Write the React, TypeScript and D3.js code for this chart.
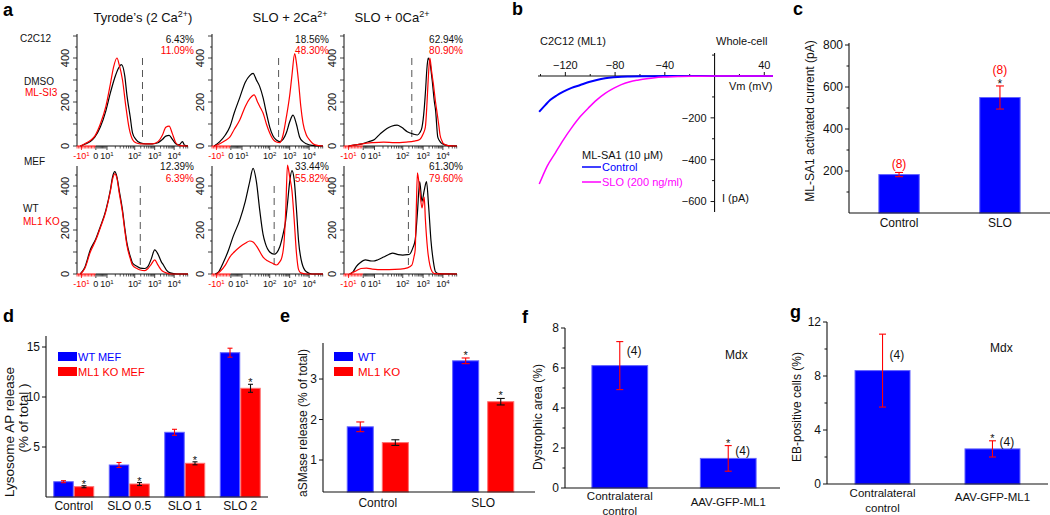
import React, { useEffect } from 'react';
import * as d3 from 'd3';

const FONT = "'Liberation Sans', Arial, Helvetica, sans-serif";
const BLUE = '#0000ff';
const BLUE_EDGE = '#6464ff';
const RED = '#ff0000';
const RED_EDGE = '#ff7070';
const MAGENTA = '#ff00ff';
const INK = '#111';

// ---------------- Panel a : flow cytometry histograms ----------------
const aTitles = ['Tyrode’s (2 Ca', 'SLO + 2Ca', 'SLO + 0Ca'];
const aTitleSups = ['2+', '2+', '2+'];
const aTitleTails = [')', '', ''];
const aPctBlack = ['6.43%', '18.56%', '62.94%', '12.39%', '33.44%', '61.30%'];
const aPctRed = ['11.09%', '48.30%', '80.90%', '6.39%', '55.82%', '79.60%'];
const aGates = [0.59, 0.6, 0.6, 0.57, 0.56, 0.57];
const aTickPos = [0.04, 0.17, 0.27, 0.52, 0.7, 0.875];
const aTickBase = ['-10', '0', '10', '10', '10', '10'];
const aTickSup = ['1', '', '1', '2', '3', '4'];
const aYTicks = [0, 200, 400];

const a1Black = [[0.03,0],[0.07,8],[0.12,20],[0.16,40],[0.21,86],[0.26,160],[0.30,240],[0.34,310],[0.37,350],[0.40,370],[0.43,320],[0.45,230],[0.48,130],[0.50,60],[0.53,30],[0.57,14],[0.62,10],[0.68,10],[0.73,15],[0.77,30],[0.80,45],[0.83,48],[0.86,30],[0.89,10],[0.92,5],[0.95,20],[0.97,3],[1.0,0]];
const a1Red = [[0.03,0],[0.07,10],[0.12,25],[0.16,45],[0.21,100],[0.26,180],[0.30,280],[0.33,360],[0.36,400],[0.38,370],[0.41,300],[0.44,180],[0.47,80],[0.50,30],[0.53,15],[0.57,10],[0.62,10],[0.68,10],[0.73,20],[0.77,50],[0.80,85],[0.83,90],[0.86,55],[0.89,15],[0.92,3],[1.0,0]];
const a2Black = [[0.02,0],[0.07,20],[0.12,50],[0.16,86],[0.20,150],[0.25,220],[0.30,290],[0.34,320],[0.37,330],[0.40,300],[0.43,270],[0.46,220],[0.49,150],[0.52,86],[0.55,45],[0.58,27],[0.61,20],[0.64,30],[0.67,60],[0.70,110],[0.73,140],[0.76,100],[0.79,40],[0.82,20],[0.85,10],[0.90,3],[1.0,0]];
const a2Red = [[0.02,0],[0.07,10],[0.12,25],[0.16,40],[0.20,75],[0.25,118],[0.30,180],[0.34,215],[0.38,232],[0.41,200],[0.44,170],[0.46,150],[0.49,100],[0.52,59],[0.55,30],[0.58,18],[0.61,15],[0.64,50],[0.67,132],[0.70,230],[0.72,320],[0.745,420],[0.76,380],[0.78,290],[0.80,180],[0.82,104],[0.85,50],[0.88,27],[0.93,5],[1.0,0]];
const a3Black = [[0.04,0],[0.10,5],[0.16,10],[0.22,20],[0.27,30],[0.32,55],[0.38,80],[0.42,90],[0.47,95],[0.51,85],[0.56,65],[0.61,55],[0.65,50],[0.67,60],[0.69,85],[0.71,170],[0.72,240],[0.735,360],[0.745,400],[0.76,380],[0.78,300],[0.80,200],[0.81,164],[0.83,40],[0.85,20],[0.87,10],[0.92,2],[1.0,0]];
const a3Red = [[0.04,0],[0.10,5],[0.16,10],[0.25,15],[0.35,18],[0.45,15],[0.55,18],[0.62,22],[0.67,30],[0.70,55],[0.72,86],[0.735,200],[0.745,300],[0.76,400],[0.775,340],[0.79,286],[0.81,200],[0.82,164],[0.84,90],[0.85,50],[0.87,20],[0.88,10],[0.92,2],[1.0,0]];
const a4Black = [[0.03,0],[0.07,30],[0.12,110],[0.17,160],[0.21,215],[0.26,290],[0.30,380],[0.32,440],[0.34,465],[0.36,440],[0.38,380],[0.41,290],[0.43,210],[0.45,140],[0.48,80],[0.50,50],[0.54,35],[0.57,27],[0.61,25],[0.64,35],[0.67,70],[0.70,110],[0.73,90],[0.76,55],[0.78,40],[0.81,15],[0.84,5],[0.90,0],[1.0,0]];
const a4Red = [[0.03,0],[0.07,25],[0.12,100],[0.17,155],[0.21,210],[0.26,285],[0.30,375],[0.32,430],[0.34,455],[0.36,435],[0.38,370],[0.41,280],[0.43,200],[0.45,130],[0.48,70],[0.50,40],[0.54,25],[0.57,18],[0.61,15],[0.64,25],[0.67,45],[0.70,64],[0.73,40],[0.76,18],[0.78,10],[0.81,4],[0.84,0],[1.0,0]];
const a5Black = [[0.03,0],[0.06,10],[0.10,50],[0.15,110],[0.19,170],[0.25,245],[0.30,330],[0.34,420],[0.37,480],[0.40,420],[0.43,290],[0.46,180],[0.48,140],[0.52,100],[0.56,90],[0.61,123],[0.64,180],[0.66,230],[0.68,320],[0.70,420],[0.72,470],[0.74,430],[0.76,300],[0.78,150],[0.81,50],[0.85,10],[0.90,0],[1.0,0]];
const a5Red = [[0.04,0],[0.07,10],[0.12,40],[0.16,77],[0.20,100],[0.25,123],[0.30,140],[0.34,150],[0.37,145],[0.41,120],[0.46,77],[0.50,60],[0.54,50],[0.58,41],[0.61,55],[0.63,77],[0.65,150],[0.665,300],[0.68,495],[0.70,440],[0.72,380],[0.74,250],[0.76,100],[0.78,20],[0.80,5],[0.85,0],[1.0,0]];
const a6Black = [[0.05,0],[0.08,10],[0.11,35],[0.14,50],[0.19,64],[0.23,60],[0.26,59],[0.30,65],[0.35,77],[0.40,90],[0.43,95],[0.48,88],[0.52,86],[0.56,88],[0.58,90],[0.61,120],[0.63,155],[0.65,280],[0.67,420],[0.69,330],[0.71,380],[0.73,420],[0.75,300],[0.77,150],[0.79,60],[0.81,10],[0.84,2],[1.0,0]];
const a6Red = [[0.05,0],[0.08,8],[0.11,15],[0.15,25],[0.20,27],[0.25,22],[0.30,20],[0.40,20],[0.50,22],[0.56,28],[0.60,40],[0.62,80],[0.63,110],[0.64,300],[0.65,460],[0.67,380],[0.69,300],[0.71,350],[0.72,250],[0.74,110],[0.76,40],[0.78,10],[0.80,2],[1.0,0]];
const aBlackSeries = [a1Black, a2Black, a3Black, a4Black, a5Black, a6Black];
const aRedSeries = [a1Red, a2Red, a3Red, a4Red, a5Red, a6Red];

// ---------------- Panel b : I-V curves ----------------
const bXTicks = [-120, -80, -40, 40];
const bXMinor = [-140, -100, -60, -20, 20];
const bYTicks = [-200, -400, -600];
const bYMinor = [100, -100, -300, -500];
const bControl = [[-141,-171],[-136,-138],[-132,-114],[-127,-93],[-121.6,-75],[-115,-57],[-108,-43],[-101,-29],[-94.7,-19],[-88,-11],[-81.3,-6],[-75,-3],[-68,-2],[-55,-1],[-40,0],[-20,0],[0,0],[20,0],[47,0]];
const bSLO = [[-141,-516],[-138,-475],[-134.7,-432],[-128,-367],[-121.6,-305],[-115,-248],[-108,-194],[-101,-150],[-94.7,-114],[-88,-83],[-81.3,-59],[-75,-41],[-68,-27],[-61,-19],[-54.7,-13],[-48,-8],[-41.3,-5],[-34,-3],[-28,-2],[-15,-1],[0,0],[20,0],[47,0]];

// ---------------- Panel c ----------------
const cCats = ['Control', 'SLO'];
const cVals = [183, 550];
const cErr = [10, 55];
const cN = ['(8)', '(8)'];
const cSig = [false, true];
const cYTicks = [200, 400, 600, 800];
const cYMinor = [100, 300, 500, 700];

// ---------------- Panel d ----------------
const dCats = ['Control', 'SLO 0.5', 'SLO 1', 'SLO 2'];
const dWT = [1.53, 3.2, 6.47, 14.43];
const dWTErr = [0.1, 0.25, 0.3, 0.45];
const dKO = [1.03, 1.3, 3.37, 10.87];
const dKOErr = [0.1, 0.15, 0.15, 0.4];
const dYTicks = [5, 10, 15];
const dLegend = ['WT MEF', 'ML1 KO MEF'];

// ---------------- Panel e ----------------
const eCats = ['Control', 'SLO'];
const eWT = [1.82, 3.45];
const eWTErr = [0.12, 0.07];
const eKO = [1.43, 2.44];
const eKOErr = [0.07, 0.08];
const eSig = [false, true];
const eYTicks = [1, 2, 3];
const eLegend = ['WT', 'ML1 KO'];

// ---------------- Panel f ----------------
const fCats = ['Contralateral|control', 'AAV-GFP-ML1'];
const fVals = [6.12, 1.48];
const fErr = [1.2, 0.64];
const fN = ['(4)', '(4)'];
const fNLabelY = [6.85, 1.85];
const fSig = [false, true];
const fYTicks = [0, 2, 4, 6, 8];
const fYMinor = [1, 3, 5, 7];

// ---------------- Panel g ----------------
const gCats = ['Contralateral|control', 'AAV-GFP-ML1'];
const gVals = [8.4, 2.6];
const gErr = [2.7, 0.6];
const gN = ['(4)', '(4)'];
const gNLabelY = [9.6, 3.1];
const gSig = [false, true];
const gYTicks = [0, 4, 8, 12];
const gYMinor = [2, 6, 10];

// ---------------- helpers ----------------
function ErrBar({ x, y0, y1, color, cap }: { x: number; y0: number; y1: number; color: string; cap: number }) {
  return (
    <g stroke={color} strokeWidth={1.1}>
      <line x1={x} x2={x} y1={y0} y2={y1} />
      <line x1={x - cap} x2={x + cap} y1={y0} y2={y0} />
      <line x1={x - cap} x2={x + cap} y1={y1} y2={y1} />
    </g>
  );
}

function YAxis({ scale, x, ticks, minor = [], fontSize = 12, top }: any) {
  const y0 = scale.range()[0];
  return (
    <g>
      <line x1={x} x2={x} y1={y0} y2={top} stroke={INK} strokeWidth={1.1} />
      {ticks.map((t: number) => (
        <g key={'t' + t}>
          <line x1={x - 4} x2={x} y1={scale(t)} y2={scale(t)} stroke={INK} />
          <text x={x - 6} y={scale(t)} dy="0.35em" textAnchor="end" fontSize={fontSize} fill={INK}>{t}</text>
        </g>
      ))}
      {minor.map((t: number) => (
        <line key={'m' + t} x1={x - 2.5} x2={x} y1={scale(t)} y2={scale(t)} stroke={INK} />
      ))}
    </g>
  );
}

function Histogram({ idx, left, right, base, top, pctY }: any) {
  const x = d3.scaleLinear().domain([0, 1]).range([left, right]);
  const y = d3.scaleLinear().domain([0, 400]).range([base, base - 88]);
  const line = d3.line<number[]>().x((d) => x(d[0])).y((d) => y(d[1])).curve(d3.curveMonotoneX);
  const maxCount = y.invert(top);
  const majorY = d3.range(0, maxCount, 100);
  const minorY = d3.range(50, maxCount, 100);
  const decs = aTickPos.slice(2);
  const minorX: number[] = [];
  decs.forEach((p, i) => {
    const w = i < decs.length - 1 ? decs[i + 1] - p : 0.175;
    for (let k = 2; k <= 9; k++) {
      const q = p + w * Math.log10(k);
      if (q < 1) minorX.push(q);
    }
  });
  const linMinor = d3.range(1, 10).map((j) => aTickPos[1] + ((aTickPos[2] - aTickPos[1]) * j) / 10);
  const negMinor = d3.range(0, 13).map((j) => (aTickPos[1] * j) / 13);
  return (
    <g>
      <line x1={left} x2={left} y1={base} y2={top} stroke={INK} strokeWidth={1} />
      <line x1={left} x2={x(aTickPos[1])} y1={base} y2={base} stroke={RED} strokeWidth={1} />
      <line x1={x(aTickPos[1])} x2={right} y1={base} y2={base} stroke={INK} strokeWidth={1} />
      {majorY.map((t) => (
        <line key={'my' + t} x1={left - 4} x2={left} y1={y(t)} y2={y(t)} stroke={INK} strokeWidth={0.8} />
      ))}
      {minorY.map((t) => (
        <line key={'ny' + t} x1={left - 2} x2={left} y1={y(t)} y2={y(t)} stroke={INK} strokeWidth={0.8} />
      ))}
      {aYTicks.map((t) => (
        <text key={'ly' + t} transform={`translate(${left - 8},${y(t)}) rotate(-90)`} textAnchor="middle" fontSize={11} fill={INK}>{t}</text>
      ))}
      {negMinor.map((p, i) => (
        <line key={'neg' + i} x1={x(p)} x2={x(p)} y1={base} y2={base + 2.5} stroke={RED} strokeWidth={0.7} />
      ))}
      {linMinor.map((p, i) => (
        <line key={'lin' + i} x1={x(p)} x2={x(p)} y1={base} y2={base + 2.5} stroke={INK} strokeWidth={0.7} />
      ))}
      {minorX.map((p, i) => (
        <line key={'mx' + i} x1={x(p)} x2={x(p)} y1={base} y2={base + 2.5} stroke={INK} strokeWidth={0.7} />
      ))}
      {aTickPos.map((p, i) => (
        <g key={'tx' + i}>
          <line x1={x(p)} x2={x(p)} y1={base} y2={base + 4} stroke={i === 0 ? RED : INK} strokeWidth={0.8} />
          <text x={x(p)} y={base + 13} textAnchor="middle" fontSize={9} fill={i === 0 ? RED : INK}>
            {aTickBase[i]}
            {aTickSup[i] && <tspan dy={-3.5} fontSize={6}>{aTickSup[i]}</tspan>}
          </text>
        </g>
      ))}
      <line x1={x(aGates[idx])} x2={x(aGates[idx])} y1={y(400)} y2={y(25)} stroke="#555" strokeWidth={1} strokeDasharray="7,5" />
      <path d={line(aBlackSeries[idx] as any) || ''} fill="none" stroke="#000" strokeWidth={1.2} />
      <path d={line(aRedSeries[idx] as any) || ''} fill="none" stroke={RED} strokeWidth={1.2} />
      <text x={right + 6} y={pctY[0]} dy="0.35em" textAnchor="end" fontSize={10} fill={INK}>{aPctBlack[idx]}</text>
      <text x={right + 6} y={pctY[1]} dy="0.35em" textAnchor="end" fontSize={10} fill={RED}>{aPctRed[idx]}</text>
    </g>
  );
}

function PanelA() {
  const cols = [
    { left: 77, right: 188, tx: 143 },
    { left: 212, right: 323, tx: 290 },
    { left: 344, right: 457, tx: 392 },
  ];
  const rows = [
    { top: 34, base: 146, pctY: [39, 50] },
    { top: 166, base: 274, pctY: [166, 178] },
  ];
  return (
    <g>
      {cols.map((c, i) => (
        <text key={'title' + i} x={c.tx} y={22} textAnchor="middle" fontSize={13} fill={INK}>
          {aTitles[i]}
          <tspan dy={-5} fontSize={9}>{aTitleSups[i]}</tspan>
          {aTitleTails[i] && <tspan dy={5}>{aTitleTails[i]}</tspan>}
        </text>
      ))}
      {rows.map((r, ri) =>
        cols.map((c, ci) => (
          <Histogram key={ri * 3 + ci} idx={ri * 3 + ci} left={c.left} right={c.right} top={r.top} base={r.base} pctY={r.pctY} />
        ))
      )}
      <text x={20} y={42} fontSize={10} fill={INK}>C2C12</text>
      <text x={24} y={85} fontSize={10} fill={INK}>DMSO</text>
      <text x={25} y={96} fontSize={10} fill={RED}>ML-SI3</text>
      <text x={24} y={165} fontSize={10} fill={INK}>MEF</text>
      <text x={23} y={212} fontSize={10} fill={INK}>WT</text>
      <text x={23} y={225} fontSize={10} fill={RED}>ML1 KO</text>
    </g>
  );
}

function PanelB() {
  const x = d3.scaleLinear().domain([-142, 47]).range([538, 773]);
  const y = d3.scaleLinear().domain([-650, 110]).range([212, 53]);
  const line = d3.line<number[]>().x((d) => x(d[0])).y((d) => y(d[1])).curve(d3.curveMonotoneX);
  const y0 = y(0);
  const x0 = x(0);
  return (
    <g fontSize={11} fill={INK}>
      <line x1={x(-142)} x2={x(47)} y1={y0} y2={y0} stroke={INK} strokeWidth={1.1} />
      <line x1={x0} x2={x0} y1={y(110)} y2={y(-650)} stroke={INK} strokeWidth={1.1} />
      {bXTicks.map((t) => (
        <g key={'bx' + t}>
          <line x1={x(t)} x2={x(t)} y1={y0} y2={y0 - 4} stroke={INK} />
          <text x={x(t)} y={y0 - 7} textAnchor="middle">{t < 0 ? '−' + Math.abs(t) : t}</text>
        </g>
      ))}
      {bXMinor.map((t) => (
        <line key={'bxm' + t} x1={x(t)} x2={x(t)} y1={y0} y2={y0 - 2} stroke={INK} />
      ))}
      {bYTicks.map((t) => (
        <g key={'by' + t}>
          <line x1={x0 - 4} x2={x0} y1={y(t)} y2={y(t)} stroke={INK} />
          <text x={x0 - 8} y={y(t)} dy="0.35em" textAnchor="end">{'−' + Math.abs(t)}</text>
        </g>
      ))}
      {bYMinor.map((t) => (
        <line key={'bym' + t} x1={x0 - 2.5} x2={x0} y1={y(t)} y2={y(t)} stroke={INK} />
      ))}
      <path d={line(bControl as any) || ''} fill="none" stroke={BLUE} strokeWidth={2} />
      <path d={line(bSLO as any) || ''} fill="none" stroke={MAGENTA} strokeWidth={1.5} />
      <text x={540} y={45}>C2C12 (ML1)</text>
      <text x={716} y={45}>Whole-cell</text>
      <text x={729} y={90}>Vm (mV)</text>
      <text x={722} y={202}>I (pA)</text>
      <text x={582} y={159}>ML-SA1 (10 μM)</text>
      <line x1={582} x2={601} y1={167} y2={167} stroke={BLUE} strokeWidth={1.5} />
      <text x={602} y={171} fill={BLUE}>Control</text>
      <line x1={582} x2={601} y1={182} y2={182} stroke={MAGENTA} strokeWidth={1.5} />
      <text x={602} y={186} fill={MAGENTA}>SLO (200 ng/ml)</text>
    </g>
  );
}

function PanelC() {
  const x = d3.scaleBand().domain(cCats).range([849, 1050]).paddingInner(0.6).paddingOuter(0.296);
  const y = d3.scaleLinear().domain([0, 800]).range([213, 45]);
  return (
    <g fill={INK}>
      {cCats.map((c, i) => {
        const cx = (x(c) as number) + x.bandwidth() / 2;
        const et = y(cVals[i] + cErr[i]);
        return (
          <g key={c}>
            <rect x={x(c)} y={y(cVals[i])} width={x.bandwidth()} height={y(0) - y(cVals[i])} fill={BLUE} stroke={BLUE_EDGE} strokeWidth={1} />
            <ErrBar x={cx} y0={et} y1={y(cVals[i] - cErr[i])} color={RED} cap={4} />
            {cSig[i] && <text x={cx} y={et + 2} textAnchor="middle" fontSize={12}>*</text>}
            <text x={cx} y={cSig[i] ? et - 12 : et - 4.5} textAnchor="middle" fontSize={12} fill={RED}>{cN[i]}</text>
            <text x={cx} y={227} textAnchor="middle" fontSize={12}>{c}</text>
          </g>
        );
      })}
      <line x1={849} x2={1050} y1={y(0)} y2={y(0)} stroke={INK} strokeWidth={1.1} />
      <YAxis scale={y} x={849} ticks={cYTicks} minor={cYMinor} top={43} />
      <text transform="translate(810,121) rotate(-90)" textAnchor="middle" dy="0.35em" fontSize={12}>ML-SA1 activated current (pA)</text>
    </g>
  );
}

function PanelD() {
  const x0 = d3.scaleBand().domain(dCats).range([46, 268]).paddingInner(0.28).paddingOuter(0.14);
  const x1 = d3.scaleBand().domain(['WT', 'KO']).range([0, x0.bandwidth()]).paddingInner(0.05);
  const y = d3.scaleLinear().domain([0, 16.1]).range([497, 336]);
  return (
    <g fill={INK}>
      {dCats.map((c, i) => {
        const gx = x0(c) as number;
        const bw = x1.bandwidth();
        const wx = gx + (x1('WT') as number);
        const kx = gx + (x1('KO') as number);
        const ket = y(dKO[i] + dKOErr[i]);
        return (
          <g key={c}>
            <rect x={wx} y={y(dWT[i])} width={bw} height={y(0) - y(dWT[i])} fill={BLUE} stroke={BLUE_EDGE} />
            <rect x={kx} y={y(dKO[i])} width={bw} height={y(0) - y(dKO[i])} fill={RED} stroke={RED_EDGE} />
            <ErrBar x={wx + bw / 2} y0={y(dWT[i] + dWTErr[i])} y1={y(dWT[i] - dWTErr[i])} color={RED} cap={2.5} />
            <ErrBar x={kx + bw / 2} y0={ket} y1={y(dKO[i] - dKOErr[i])} color={INK} cap={2.5} />
            <text x={kx + bw / 2} y={ket + 2} textAnchor="middle" fontSize={11}>*</text>
            <text x={gx + x0.bandwidth() / 2} y={510} textAnchor="middle" fontSize={12}>{c}</text>
          </g>
        );
      })}
      <line x1={46} x2={268} y1={y(0)} y2={y(0)} stroke={INK} strokeWidth={1.1} />
      <YAxis scale={y} x={46} ticks={dYTicks} top={336} />
      <text transform="translate(9,432) rotate(-90)" textAnchor="middle" dy="0.35em" fontSize={13.5}>Lysosome AP release</text>
      <text transform="translate(23,418) rotate(-90)" textAnchor="middle" dy="0.35em" fontSize={13.5}>(% of total )</text>
      <rect x={58} y={352} width={19} height={9} fill={BLUE} />
      <text x={78} y={361} fontSize={11} fill={BLUE}>{dLegend[0]}</text>
      <rect x={58} y={367} width={19} height={9} fill={RED} />
      <text x={78} y={376} fontSize={11} fill={RED}>{dLegend[1]}</text>
    </g>
  );
}

function PanelE() {
  const x0 = d3.scaleBand().domain(eCats).range([323, 538]).paddingInner(0.42).paddingOuter(0.23);
  const x1 = d3.scaleBand().domain(['WT', 'KO']).range([0, x0.bandwidth()]).paddingInner(0.257);
  const y = d3.scaleLinear().domain([0.21, 3.89]).range([492, 343]);
  const base = y(0.21);
  return (
    <g fill={INK}>
      {eCats.map((c, i) => {
        const gx = x0(c) as number;
        const bw = x1.bandwidth();
        const wx = gx + (x1('WT') as number);
        const kx = gx + (x1('KO') as number);
        const wet = y(eWT[i] + eWTErr[i]);
        const ket = y(eKO[i] + eKOErr[i]);
        return (
          <g key={c}>
            <rect x={wx} y={y(eWT[i])} width={bw} height={base - y(eWT[i])} fill={BLUE} stroke={BLUE_EDGE} />
            <rect x={kx} y={y(eKO[i])} width={bw} height={base - y(eKO[i])} fill={RED} stroke={RED_EDGE} />
            <ErrBar x={wx + bw / 2} y0={wet} y1={y(eWT[i] - eWTErr[i])} color={RED} cap={4} />
            <ErrBar x={kx + bw / 2} y0={ket} y1={y(eKO[i] - eKOErr[i])} color={INK} cap={4} />
            {eSig[i] && <text x={wx + bw / 2} y={wet + 1} textAnchor="middle" fontSize={11}>*</text>}
            {eSig[i] && <text x={kx + bw / 2} y={ket + 1} textAnchor="middle" fontSize={11}>*</text>}
            <text x={gx + x0.bandwidth() / 2} y={507} textAnchor="middle" fontSize={12}>{c}</text>
          </g>
        );
      })}
      <line x1={323} x2={535} y1={base} y2={base} stroke={INK} strokeWidth={1.1} />
      <YAxis scale={y} x={323} ticks={eYTicks} top={343} />
      <text transform="translate(303,423) rotate(-90)" textAnchor="middle" dy="0.35em" fontSize={12}>aSMase release (% of total)</text>
      <rect x={334} y={352} width={19} height={9} fill={BLUE} />
      <text x={358} y={361} fontSize={11.5} fill={BLUE}>{eLegend[0]}</text>
      <rect x={334} y={367} width={19} height={9} fill={RED} />
      <text x={358} y={376} fontSize={11.5} fill={RED}>{eLegend[1]}</text>
    </g>
  );
}

function SingleBars({ cats, vals, errs, ns, nY, sig, yTicks, yMinor, domainMax, range, yRange, axisEnd, title, titleX, titleY, mdx, catY, pin, pout }: any) {
  const x = d3.scaleBand().domain(cats).range(range).paddingInner(pin).paddingOuter(pout);
  const y = d3.scaleLinear().domain([0, domainMax]).range(yRange);
  const left = range[0];
  return (
    <g fill={INK}>
      {cats.map((c: string, i: number) => {
        const bx = x(c) as number;
        const cx = bx + x.bandwidth() / 2;
        const et = y(vals[i] + errs[i]);
        const lines = c.split('|');
        return (
          <g key={c}>
            <rect x={bx} y={y(vals[i])} width={x.bandwidth()} height={y(0) - y(vals[i])} fill={BLUE} stroke={BLUE_EDGE} />
            <ErrBar x={cx} y0={et} y1={y(vals[i] - errs[i])} color={RED} cap={3.5} />
            {sig[i] && <text x={cx} y={et + 1.5} textAnchor="middle" fontSize={11}>*</text>}
            <text x={cx + 7} y={y(nY[i])} dy="0.35em" fontSize={12}>{ns[i]}</text>
            {lines.map((l, li) => (
              <text key={li} x={cx} y={(lines.length > 1 ? catY[0] : catY[1]) + li * 14.5} textAnchor="middle" fontSize={11.5}>{l}</text>
            ))}
          </g>
        );
      })}
      <line x1={left} x2={axisEnd} y1={y(0)} y2={y(0)} stroke={INK} strokeWidth={1.1} />
      <YAxis scale={y} x={left} ticks={yTicks} minor={yMinor} top={y(domainMax)} />
      <text transform={`translate(${titleX},${titleY}) rotate(-90)`} textAnchor="middle" dy="0.35em" fontSize={12}>{title}</text>
      <text x={mdx[0]} y={mdx[1]} fontSize={12}>Mdx</text>
    </g>
  );
}

export default function App() {
  useEffect(() => {
    document.body.style.margin = '0';
  }, []);
  return (
    <svg width={1050} height={515} viewBox="0 0 1050 515" style={{ display: 'block', position: 'absolute', left: 0, top: 0, background: '#fff' }} fontFamily={FONT}>
      <rect x={0} y={0} width={1050} height={515} fill="#fff" />
      <PanelA />
      <PanelB />
      <PanelC />
      <PanelD />
      <PanelE />
      <SingleBars cats={fCats} vals={fVals} errs={fErr} ns={fN} nY={fNLabelY} sig={fSig} yTicks={fYTicks} yMinor={fYMinor} domainMax={8}
        range={[565, 783]} pin={0.486} pout={0.248} yRange={[488, 328]} axisEnd={780} title="Dystrophic area (%)" titleX={538} titleY={417} mdx={[725, 359]} catY={[500, 506]} />
      <SingleBars cats={gCats} vals={gVals} errs={gErr} ns={gN} nY={gNLabelY} sig={gSig} yTicks={gYTicks} yMinor={gYMinor} domainMax={12}
        range={[827, 1048]} pin={0.5} pout={0.255} yRange={[484, 322]} axisEnd={1048} title="EB-positive cells (%)" titleX={797} titleY={407} mdx={[990, 352]} catY={[497, 501]} />
      <g fontWeight="bold" fontSize={18} fill="#000">
        <text x={3} y={16}>a</text>
        <text x={512} y={15}>b</text>
        <text x={793} y={15}>c</text>
        <text x={3} y={322}>d</text>
        <text x={280} y={322}>e</text>
        <text x={522} y={323}>f</text>
        <text x={790} y={318}>g</text>
      </g>
    </svg>
  );
}
